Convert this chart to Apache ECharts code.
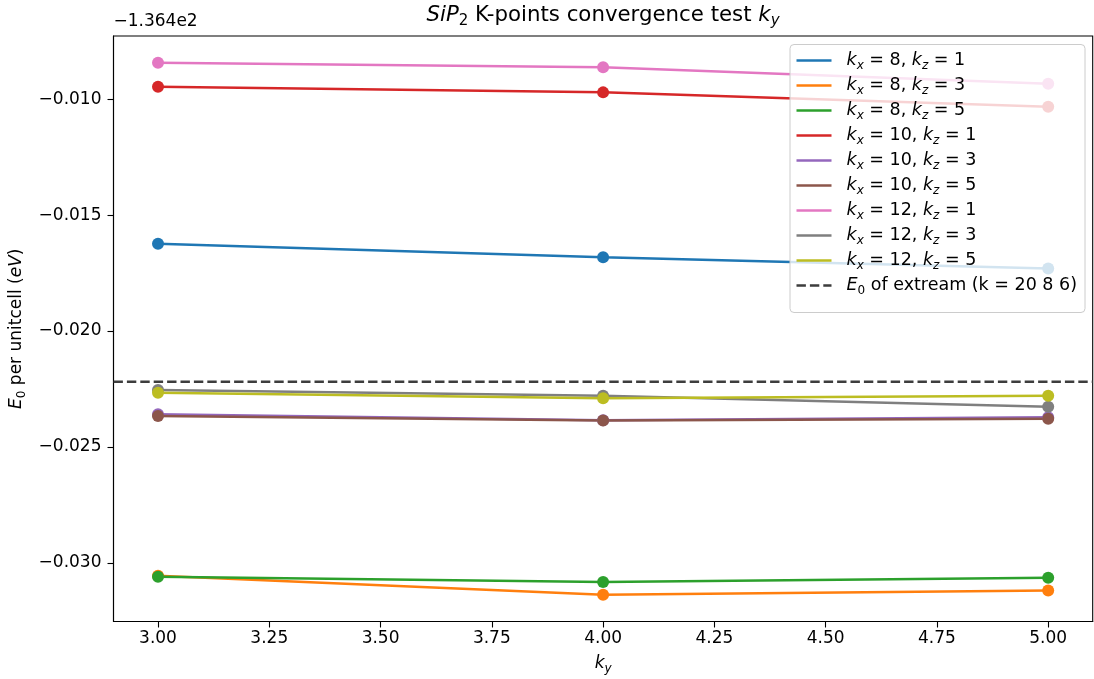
<!DOCTYPE html>
<html>
<head>
<meta charset="utf-8">
<script src="https://cdn.jsdelivr.net/npm/echarts@6/dist/echarts.min.js"></script>
<style>
  html, body { margin: 0; padding: 0; background: #fff; }
  #chart { width: 1094px; height: 679px; }
</style>
</head>
<body>
<div id="chart"></div>
<script>
// Ground-state energy per unit cell, stored as offsets from -136.4 eV
const ENERGY_OFFSET_TEXT = '\u22121.364e2';
const ky = [3, 4, 5];

const kx8kz1  = [-0.01624, -0.01682, -0.01730];
const kx8kz3  = [-0.03055, -0.03137, -0.03118];
const kx8kz5  = [-0.03059, -0.03082, -0.03063];
const kx10kz1 = [-0.00947, -0.00971, -0.01033];
const kx10kz3 = [-0.02359, -0.02384, -0.02371];
const kx10kz5 = [-0.02366, -0.02386, -0.02378];
const kx12kz1 = [-0.00843, -0.00863, -0.00934];
const kx12kz3 = [-0.02254, -0.02279, -0.02326];
const kx12kz5 = [-0.02266, -0.02290, -0.02279];

// E0 of the dense reference mesh k = 20 8 6
const extremeE0 = -0.02219;

const kxLabels = [8, 8, 8, 10, 10, 10, 12, 12, 12];
const kzLabels = [1, 3, 5, 1, 3, 5, 1, 3, 5];
const seriesValues = [kx8kz1, kx8kz3, kx8kz5, kx10kz1, kx10kz3, kx10kz5, kx12kz1, kx12kz3, kx12kz5];
const colors = ['#1f77b4', '#ff7f0e', '#2ca02c', '#d62728', '#9467bd', '#8c564b', '#e377c2', '#7f7f7f', '#bcbd22'];

const xTicks = [3.00, 3.25, 3.50, 3.75, 4.00, 4.25, 4.50, 4.75, 5.00];
const yTicks = [-0.030, -0.025, -0.020, -0.015, -0.010];
const X_MIN = 2.9, X_MAX = 5.1;
const Y_MIN = -0.03252, Y_MAX = -0.00728;

const FONT = 'DejaVu Sans';
const FS = 17;
const SUB = 12;

const rich = {
  gap: { width: 10 },
  i: { fontFamily: FONT, fontStyle: 'italic', fontSize: FS, lineHeight: 22, color: '#000' },
  n: { fontFamily: FONT, fontSize: FS, lineHeight: 22, color: '#000' },
  s: { fontFamily: FONT, fontStyle: 'italic', fontSize: SUB, lineHeight: 12, padding: [10, 0, 0, 0], color: '#000' },
  s0: { fontFamily: FONT, fontSize: SUB, lineHeight: 12, padding: [10, 0, 0, 0], color: '#000' }
};

const legendRich = Object.assign({}, rich, {
  i: Object.assign({}, rich.i, { fontSize: 17.5 }),
  n: Object.assign({}, rich.n, { fontSize: 17.5 })
});

const TFS = 21.3, TSUB = 15;
const titleRich = {
  i: { fontFamily: FONT, fontStyle: 'italic', fontSize: TFS, lineHeight: 26, fill: '#000', color: '#000' },
  n: { fontFamily: FONT, fontSize: TFS, lineHeight: 26, fill: '#000', color: '#000' },
  s: { fontFamily: FONT, fontStyle: 'italic', fontSize: TSUB, lineHeight: 14, padding: [12, 0, 0, 0], fill: '#000', color: '#000' },
  s0: { fontFamily: FONT, fontSize: TSUB, lineHeight: 14, padding: [12, 0, 0, 0], fill: '#000', color: '#000' }
};

const legendText = {};
const series = seriesValues.map((vals, idx) => {
  const name = 'kx = ' + kxLabels[idx] + ', kz = ' + kzLabels[idx];
  legendText[name] = '{gap|}{i|k}{s|x}{n| = ' + kxLabels[idx] + ', }{i|k}{s|z}{n| = ' + kzLabels[idx] + '}';
  return {
    name: name,
    type: 'line',
    data: ky.map((k, j) => [k, vals[j]]),
    color: colors[idx],
    symbol: 'circle',
    symbolSize: 12,
    showSymbol: true,
    lineStyle: { width: 2.5, color: colors[idx] },
    itemStyle: { color: colors[idx], borderWidth: 0 },
    emphasis: { disabled: true },
    silent: true
  };
});

// Horizontal reference level spanning the whole x range
const extremeName = 'E0 of extream (k = 20 8 6)';
legendText[extremeName] = '{gap|}{i|E}{s0|0}{n| of extream (k = 20 8 6)}';
series.push({
  name: extremeName,
  type: 'line',
  data: [[X_MIN, extremeE0], [X_MAX, extremeE0]],
  color: '#3d3d3d',
  symbol: 'none',
  showSymbol: false,
  lineStyle: { color: '#3d3d3d', width: 2.5, type: [9.4, 4] },
  itemStyle: { color: '#3d3d3d', borderWidth: 0 },
  emphasis: { disabled: true },
  silent: true
});

const solidIcon = 'path://M0,0h35v2.5h-35z';
const dashIcon = 'path://M0,0h9.4v2.5h-9.4z M13.4,0h9.4v2.5h-9.4z M26.8,0h8.2v2.5h-8.2z';

const minus = v => (v < 0 ? '\u2212' : '') + Math.abs(v).toFixed(3);

const chart = echarts.init(document.getElementById('chart'), null, { renderer: 'canvas' });
chart.setOption({
  animation: false,
  backgroundColor: '#fff',
  grid: {
    left: 113.5, right: 1.3, top: 36, bottom: 57.5,
    show: true, borderColor: '#000', borderWidth: 1.1, backgroundColor: 'transparent',
    containLabel: false, outerBoundsMode: 'none'
  },
  xAxis: {
    type: 'value',
    min: X_MIN, max: X_MAX,
    splitLine: { show: false },
    axisLine: { show: true, onZero: false, lineStyle: { color: '#000', width: 1.1 } },
    axisTick: { show: true, length: 6, lineStyle: { color: '#000', width: 1.1 }, customValues: xTicks },
    axisLabel: {
      customValues: xTicks, margin: 9,
      fontFamily: FONT, fontSize: FS, color: '#000',
      formatter: v => v.toFixed(2)
    },
    name: '{i|k}{s|y}',
    nameLocation: 'middle',
    nameGap: 31,
    nameTextStyle: { rich: rich }
  },
  yAxis: {
    type: 'value',
    min: Y_MIN, max: Y_MAX,
    splitLine: { show: false },
    axisLine: { show: true, onZero: false, lineStyle: { color: '#000', width: 1.1 } },
    axisTick: { show: true, length: 6, lineStyle: { color: '#000', width: 1.1 }, customValues: yTicks },
    axisLabel: {
      customValues: yTicks, margin: 12,
      fontFamily: FONT, fontSize: FS, color: '#000',
      formatter: minus
    },
    name: '{i|E}{s0|0}{n| per unitcell (}{i|eV}{n|)}',
    nameLocation: 'middle',
    nameRotate: 90,
    nameGap: 84,
    nameTextStyle: { rich: rich }
  },
  legend: {
    orient: 'vertical',
    left: 790, top: 44.5,
    padding: [5, 8, 16, 6.5],
    itemGap: 3,
    itemWidth: 35,
    itemHeight: 2.5,
    icon: solidIcon,
    symbolKeepAspect: false,
    backgroundColor: 'rgba(255,255,255,0.8)',
    borderColor: '#cccccc',
    borderWidth: 1,
    borderRadius: 4,
    selectedMode: false,
    itemStyle: { borderWidth: 0 },
    textStyle: { fontFamily: FONT, fontSize: 17.5, color: '#000', rich: legendRich },
    formatter: name => legendText[name],
    data: series.map(s => s.name === extremeName ? { name: s.name, icon: dashIcon } : { name: s.name })
  },
  graphic: [
    {
      type: 'text', left: 113.5, top: 13,
      style: { text: ENERGY_OFFSET_TEXT, fontFamily: FONT, fontSize: FS, fill: '#000' }
    },
    {
      type: 'text', x: 603, y: 15,
      style: {
        text: '{i|SiP}{s0|2}{n| K-points convergence test }{i|k}{s|y}',
        rich: titleRich, align: 'center', verticalAlign: 'middle', fill: '#000'
      }
    }
  ],
  series: series
});
</script>
</body>
</html>
